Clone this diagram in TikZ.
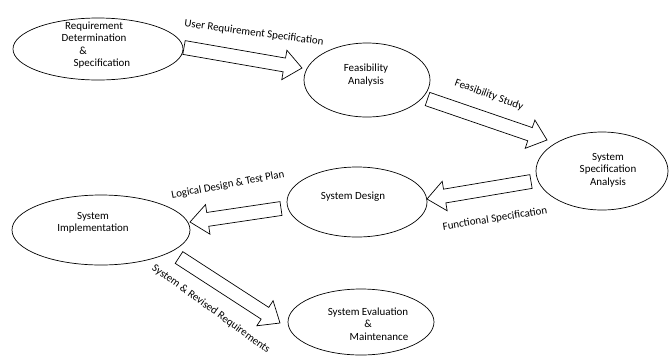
\documentclass[tikz,border=0pt]{standalone}
\usepackage{fontspec}
\setmainfont{Carlito}
\usetikzlibrary{calc,shapes.geometric}
\tikzset{
  proc/.style={draw, line width=0.7pt, ellipse, inner sep=0pt},
  txt/.style={align=center, font=\fontsize{11}{12.5}\selectfont, inner sep=0pt},
  lbl/.style={font=\fontsize{11}{13}\selectfont, inner sep=0pt},
  barrow/.style={draw, line width=0.7pt, fill=white, line join=miter}
}
\newcommand\blockarr[2]{%
  \draw[barrow] ($(#1)!7pt!90:(#2)$)
    -- ($(#2)!18pt!(#1)!7pt!-90:(#1)$)
    -- ($(#2)!18pt!(#1)!15pt!-90:(#1)$)
    -- (#2)
    -- ($(#2)!18pt!(#1)!15pt!90:(#1)$)
    -- ($(#2)!18pt!(#1)!7pt!90:(#1)$)
    -- ($(#1)!7pt!-90:(#2)$) -- cycle;}
\begin{document}
\begin{tikzpicture}[x=1bp, y=-1bp]
\fill[white] (0,0) rectangle (669,356);
\useasboundingbox (0,0) rectangle (669,356);

% ellipses
\node[proc, minimum width=170bp, minimum height=62bp] (e1) at (98,49) {};
\node[proc, minimum width=126bp, minimum height=74bp] (e2) at (367,80) {};
\node[proc, minimum width=132bp, minimum height=78bp] (e3) at (602,171) {};
\node[proc, minimum width=140bp, minimum height=70bp] (e4) at (357,202) {};
\node[proc, minimum width=178bp, minimum height=70bp] (e5) at (101,230) {};
\node[proc, minimum width=146bp, minimum height=66bp] (e6) at (361,322) {};

% texts
\node[txt] (t1) at (94,45) {Requirement\\Determination\\\hspace*{-22pt}\&\\\hspace*{16pt}Specification};
\node[txt] (t2) at (366,75) {Feasibility\\Analysis};
\node[txt] (t3) at (608,170) {System\\Specification\\Analysis};
\node[txt] (t4) at (353,197) {System Design};
\node[txt] (t5) at (93,223) {System\\Implementation};
\node[txt] (t6) at (368,324) {System Evaluation\\\&\\\hspace*{22pt}Maintenance};

% arrow ends
\coordinate (a1t) at (184,47.5);
\coordinate (a1h) at (302,68);
\coordinate (a2t) at (427.5,99);
\coordinate (a2h) at (547,140);
\coordinate (a3t) at (531,181.5);
\coordinate (a3h) at (427,199);
\coordinate (a4t) at (281,208.5);
\coordinate (a4h) at (190,222);
\coordinate (a5t) at (179,257.5);
\coordinate (a5h) at (280,323);

\blockarr{a1t}{a1h}
\blockarr{a2t}{a2h}
\blockarr{a3t}{a3h}
\blockarr{a4t}{a4h}
\blockarr{a5t}{a5h}

% labels
\node[lbl, rotate=-7.5] (l1) at (254,33) {User Requirement Specification};
\node[lbl, rotate=-20] (l2) at (489,95) {Feasibility Study};
\node[lbl, rotate=9] (l3) at (495,219) {Functional Specification};
\node[lbl, rotate=10.5] (l4) at (228,185) {Logical Design \& Test Plan};
\node[lbl, rotate=-36] (l5) at (211,309) {System \& Revised Requirements};
\end{tikzpicture}
\end{document}
